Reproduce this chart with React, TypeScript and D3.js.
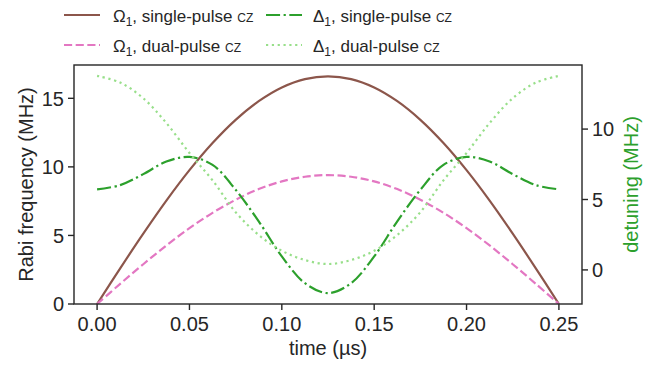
import React from "react";
import * as d3 from "d3";

const time = [0, 0.0125, 0.025, 0.0375, 0.05, 0.0625, 0.075, 0.0875, 0.1, 0.1125, 0.125, 0.1375, 0.15, 0.1625, 0.175, 0.1875, 0.2, 0.2125, 0.225, 0.2375, 0.25];
const omegaSingle = [0, 2.6, 5.13, 7.54, 9.76, 11.74, 13.43, 14.79, 15.79, 16.4, 16.6, 16.4, 15.79, 14.79, 13.43, 11.74, 9.76, 7.54, 5.13, 2.6, 0];
const omegaDual = [0, 1.47, 2.9, 4.27, 5.53, 6.65, 7.6, 8.38, 8.94, 9.28, 9.4, 9.28, 8.94, 8.38, 7.6, 6.65, 5.53, 4.27, 2.9, 1.47, 0];
const deltaSingle = [5.72, 6.02, 6.8, 7.7, 8.02, 7.46, 5.69, 3.45, 0.96, -0.94, -1.65, -0.94, 0.96, 3.45, 5.69, 7.46, 8.02, 7.7, 6.8, 6.02, 5.72];
const deltaDual = [13.78, 13.3, 12.19, 10.43, 8.3, 6.36, 4.1, 2.48, 1.36, 0.7, 0.42, 0.7, 1.36, 2.48, 4.1, 6.36, 8.3, 10.43, 12.19, 13.3, 13.78];

const xTicks = [0, 0.05, 0.1, 0.15, 0.2, 0.25];
const yLeftTicks = [0, 5, 10, 15];
const yRightTicks = [0, 5, 10];

const W = 658, H = 366;
const L = 74, R = 582, T = 65, B = 304;
const FONT = "'Liberation Sans', Arial, sans-serif";
const TXT = "#262626";
const FS = 20;
const LFS = 17;

const x = d3.scaleLinear().domain([-0.0125, 0.2625]).range([L, R]);
const yL = d3.scaleLinear().domain([0, 17.43]).range([B, T]);
const yR = d3.scaleLinear().domain([-2.42, 14.55]).range([B, T]);

const lineL = d3.line<number>().x((_, i) => x(time[i])).y((d) => yL(d)).curve(d3.curveCatmullRom);
const lineR = d3.line<number>().x((_, i) => x(time[i])).y((d) => yR(d)).curve(d3.curveCatmullRom);

const C_BROWN = "#8c564b", C_PINK = "#e377c2", C_GREEN = "#2ca02c", C_LG = "#98df8a";
const LW = 2.2;
const DASH = `${3.7 * LW},${1.6 * LW}`;
const DASHDOT = `${6.4 * LW},${1.6 * LW},${1 * LW},${1.6 * LW}`;
const DOT = `${1 * LW},${1.65 * LW}`;

const series = [
  { vals: omegaSingle, side: "L", color: C_BROWN, dash: undefined as string | undefined, sym: "Ω", name: "single-pulse" },
  { vals: omegaDual, side: "L", color: C_PINK, dash: DASH, sym: "Ω", name: "dual-pulse" },
  { vals: deltaSingle, side: "R", color: C_GREEN, dash: DASHDOT, sym: "Δ", name: "single-pulse" },
  { vals: deltaDual, side: "R", color: C_LG, dash: DOT, sym: "Δ", name: "dual-pulse" },
];

const legendPos = [
  { hx: 64, tx: 113, y: 15 },
  { hx: 64, tx: 113, y: 45 },
  { hx: 266, tx: 313, y: 15 },
  { hx: 266, tx: 313, y: 45 },
];

export default function App() {
  return (
    <svg width={W} height={H} style={{ position: "absolute", left: 0, top: 0, background: "#fff" }} fontFamily={FONT}>
      <rect x={0} y={0} width={W} height={H} fill="#fff" />
      <defs>
        <clipPath id="plot">
          <rect x={L} y={T} width={R - L} height={B - T} />
        </clipPath>
      </defs>
      <g clipPath="url(#plot)">
        {series.map((s, i) => (
          <path
            key={i}
            d={(s.side === "L" ? lineL : lineR)(s.vals) || ""}
            fill="none"
            stroke={s.color}
            strokeWidth={LW}
            strokeDasharray={s.dash}
          />
        ))}
      </g>
      <rect x={L} y={T} width={R - L} height={B - T} fill="none" stroke={TXT} strokeWidth={1.4} />
      {xTicks.map((t) => (
        <g key={t}>
          <line x1={x(t)} x2={x(t)} y1={B} y2={B + 6} stroke={TXT} strokeWidth={1.4} />
          <text x={x(t)} y={331} textAnchor="middle" fontSize={FS} fill={TXT}>
            {t.toFixed(2)}
          </text>
        </g>
      ))}
      {yLeftTicks.map((t) => (
        <g key={t}>
          <line x1={L - 6} x2={L} y1={yL(t)} y2={yL(t)} stroke={TXT} strokeWidth={1.4} />
          <text x={L - 10} y={yL(t)} dy="0.36em" textAnchor="end" fontSize={FS} fill={TXT}>
            {t}
          </text>
        </g>
      ))}
      {yRightTicks.map((t) => (
        <g key={t}>
          <line x1={R} x2={R + 6} y1={yR(t)} y2={yR(t)} stroke={TXT} strokeWidth={1.4} />
          <text x={R + 10} y={yR(t)} dy="0.36em" textAnchor="start" fontSize={FS} fill={TXT}>
            {t}
          </text>
        </g>
      ))}
      <text x={(L + R) / 2} y={355} textAnchor="middle" fontSize={FS} fill={TXT}>
        time (µs)
      </text>
      <text transform={`translate(33,${(T + B) / 2}) rotate(-90)`} textAnchor="middle" fontSize={FS} fill={TXT}>
        Rabi frequency (MHz)
      </text>
      <text transform={`translate(638,${(T + B) / 2}) rotate(-90)`} textAnchor="middle" fontSize={FS} fill={C_GREEN}>
        detuning (MHz)
      </text>
      {series.map((s, i) => {
        const p = legendPos[i];
        return (
          <g key={"lg" + i}>
            <line x1={p.hx} x2={p.hx + 36} y1={p.y} y2={p.y} stroke={s.color} strokeWidth={LW} strokeDasharray={s.dash} />
            <text x={p.tx} y={p.y + 6.5} fontSize={LFS} fill={TXT}>
              {s.sym}
              <tspan fontSize={LFS * 0.7} dy={4}>1</tspan>
              <tspan dy={-4}>{`, ${s.name} `}</tspan>
              <tspan style={{ fontVariant: "small-caps" }}>cz</tspan>
            </text>
          </g>
        );
      })}
    </svg>
  );
}
